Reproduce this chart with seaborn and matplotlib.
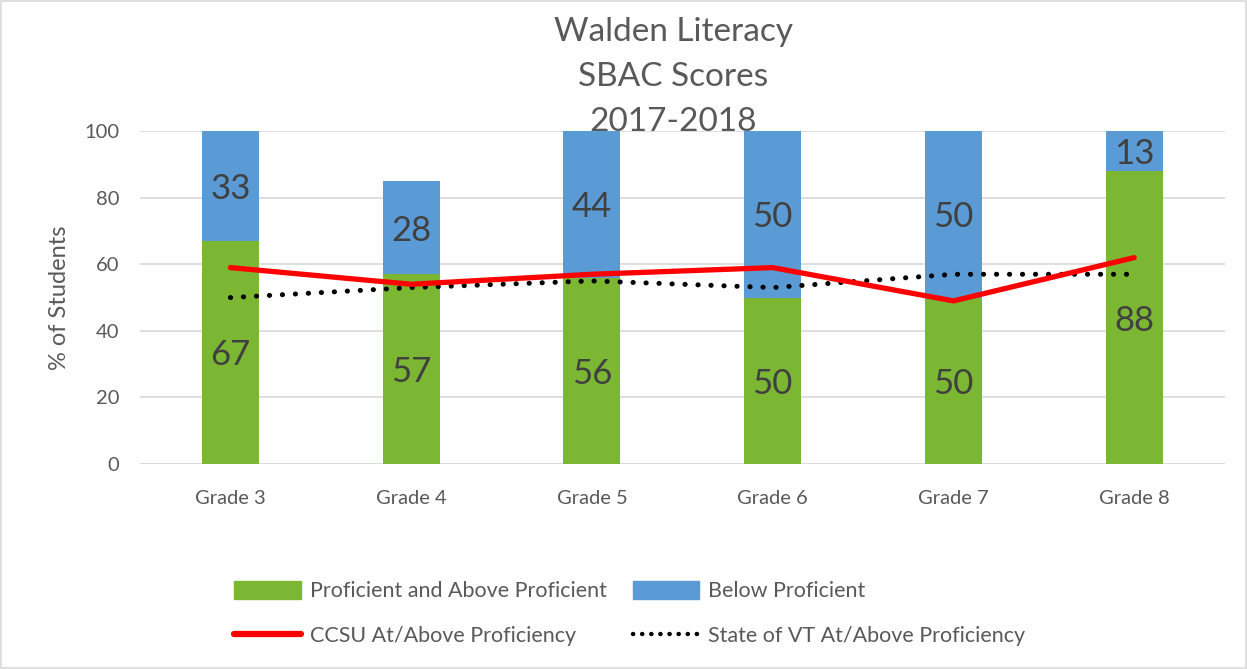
import matplotlib
matplotlib.use("Agg")
import matplotlib.pyplot as plt
import seaborn as sns
import pandas as pd
from matplotlib.patches import Patch, Rectangle
from matplotlib.lines import Line2D

grades = ["Grade 3", "Grade 4", "Grade 5", "Grade 6", "Grade 7", "Grade 8"]
proficient = [67, 57, 56, 50, 50, 88]
below = [33, 28, 44, 50, 50, 13]
ccsu = [59, 54, 57, 59, 49, 62]
state_vt = [50, 53, 55, 53, 57, 57]

sns.set_theme(style="white")
plt.rcParams["font.family"] = ["Lato", "DejaVu Sans"]

GREEN = "#7cb734"
BLUE = "#5b9bd5"
TXT = "#595959"
LBL = "#404040"

df = pd.DataFrame({"grade": grades, "prof": proficient, "below": below,
                   "ccsu": ccsu, "vt": state_vt})

fig = plt.figure(figsize=(12.47, 6.69), dpi=100)
ax = fig.add_axes([0.1123, 0.3064, 0.8697, 0.4976])

sns.barplot(data=df, x="grade", y="prof", color=GREEN, width=0.315,
            saturation=1, ax=ax, zorder=2, linewidth=0, edgecolor="none")
sns.barplot(data=df, x="grade", y="below", bottom=df["prof"], color=BLUE,
            width=0.315, saturation=1, ax=ax, zorder=2, linewidth=0, edgecolor="none")

sns.lineplot(data=df, x="grade", y="ccsu", color="#ff0000", linewidth=3.8,
             ax=ax, zorder=4, solid_capstyle="round")
sns.lineplot(data=df, x="grade", y="vt", color="black", linewidth=3.6,
             linestyle=(0, (0.05, 2.55)), dash_capstyle="round", ax=ax, zorder=3)

ax.set_ylim(0, 100)
ax.set_xlim(-0.5, 5.5)
ax.set_yticks([0, 20, 40, 60, 80, 100])
ax.yaxis.grid(True, color="#d9d9d9", linewidth=1.2, zorder=0)
ax.set_axisbelow(True)
for s in ax.spines.values():
    s.set_visible(False)
ax.axhline(0, color="#d9d9d9", linewidth=1.2, zorder=1)
ax.tick_params(axis="both", length=0, labelsize=14.5, labelcolor=TXT)
ax.tick_params(axis="x", pad=19)
ax.tick_params(axis="y", pad=15)
ax.set_xlabel("")
ax.set_ylabel("% of Students", fontsize=17, color=TXT, labelpad=10)

for i in range(len(grades)):
    p = proficient[i]
    b = below[i]
    ax.text(i, p / 2, str(p), ha="center", va="center_baseline", fontsize=25, color=LBL, zorder=5)
    top = min(p + b, 100)
    ax.text(i, (p + top) / 2, str(b), ha="center", va="center_baseline", fontsize=25, color=LBL, zorder=5)

fig.text(0.54, 0.952, "Walden Literacy", ha="center", va="center", fontsize=24, color=TXT)
fig.text(0.54, 0.885, "SBAC Scores", ha="center", va="center", fontsize=24, color=TXT)
fig.text(0.54, 0.818, "2017-2018", ha="center", va="center", fontsize=24, color=TXT)

handles = [Patch(color=GREEN), Line2D([], [], color="#ff0000", linewidth=4.5, solid_capstyle="round"),
           Patch(color=BLUE), Line2D([], [], color="black", linewidth=3.2, linestyle=(0, (0.05, 2.0)), dash_capstyle="round")]
labels = ["Proficient and Above Proficient", "CCSU At/Above Proficiency",
          "Below Proficient", "State of VT At/Above Proficiency"]
leg = fig.legend(handles, labels, ncol=2, loc="center", bbox_to_anchor=(0.505, 0.083),
                 frameon=False, fontsize=15.5, handlelength=3.1, handleheight=0.9,
                 columnspacing=1.2, labelspacing=1.15, handletextpad=0.4)
for t in leg.get_texts():
    t.set_color(TXT)

fig.patches.append(Rectangle((0.001, 0.001), 0.998, 0.998, transform=fig.transFigure,
                             fill=False, edgecolor="#d9d9d9", linewidth=1.2))

fig.savefig("out.png", dpi=100)
